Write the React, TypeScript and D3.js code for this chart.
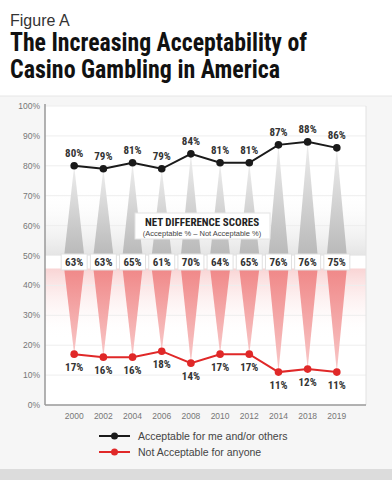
import React from "react";
import * as d3 from "d3";

const years = ["2000", "2002", "2004", "2006", "2008", "2010", "2012", "2014", "2018", "2019"];
const acceptable = [80, 79, 81, 79, 84, 81, 81, 87, 88, 86];
const notAcceptable = [17, 16, 16, 18, 14, 17, 17, 11, 12, 11];
const netDiff = [63, 63, 65, 61, 70, 64, 65, 76, 76, 75];
const yTicks = [0, 10, 20, 30, 40, 50, 60, 70, 80, 90, 100];
const legendItems = ["Acceptable for me and/or others", "Not Acceptable for anyone"];

const W = 392, H = 480;
const plot = { left: 45, right: 366, top: 106, bottom: 405 };
const body = "'Liberation Sans', Arial, sans-serif";
const narrow = "'Liberation Sans Narrow', 'Roboto Condensed', 'DejaVu Sans Condensed', sans-serif";

export default function App() {
  const x = d3.scalePoint<string>().domain(years).range([plot.left, plot.right]).padding(1);
  const y = d3.scaleLinear().domain([0, 100]).range([plot.bottom, plot.top]);
  const line = d3.line<number>().x((_, i) => x(years[i])!).y((d) => y(d));
  const grayBase = y(50);
  const redBase = y(50) + 13;
  const halfW = 10;

  return (
    <div style={{ position: "absolute", left: 0, top: 0 }}>
      <svg width={W} height={H} style={{ display: "block" }}>
        <defs>
          <linearGradient id="gTri" x1="0" y1="0" x2="0" y2="1">
            <stop offset="0" stopColor="#eeeeee" />
            <stop offset="1" stopColor="#b9b9b9" />
          </linearGradient>
          <linearGradient id="rTri" x1="0" y1="0" x2="0" y2="1">
            <stop offset="0" stopColor="#f08888" />
            <stop offset="1" stopColor="#f8c8c8" />
          </linearGradient>
          <linearGradient id="gBg" x1="0" y1="0" x2="0" y2="1">
            <stop offset="0" stopColor="#ffffff" stopOpacity="0" />
            <stop offset="1" stopColor="#e4e4e4" />
          </linearGradient>
          <linearGradient id="rBg" x1="0" y1="0" x2="0" y2="1">
            <stop offset="0" stopColor="#f9d4d4" />
            <stop offset="1" stopColor="#ffffff" stopOpacity="0" />
          </linearGradient>
        </defs>
        <rect x={0} y={0} width={W} height={H} fill="#ffffff" />
        <rect x={0} y={96} width={W} height={374} fill="#f6f6f6" />
        <line x1={0} x2={W} y1={96} y2={96} stroke="#e6e6e6" />
        <rect x={0} y={469} width={W} height={11} fill="#dcdcdc" />

        <text x={10} y={26} fontFamily={body} fontSize={16} fontWeight={300} fill="#333">Figure A</text>
        <text x={10} y={51} fontFamily={narrow} fontSize={25} fontWeight={700} fill="#111" textLength={297} lengthAdjust="spacingAndGlyphs">The Increasing Acceptability of</text>
        <text x={10} y={78} fontFamily={narrow} fontSize={25} fontWeight={700} fill="#111" textLength={270} lengthAdjust="spacingAndGlyphs">Casino Gambling in America</text>

        {/* plot background */}
        <rect x={plot.left} y={plot.top} width={plot.right - plot.left} height={plot.bottom - plot.top} fill="#ffffff" />
        <rect x={plot.left} y={y(72)} width={plot.right - plot.left} height={grayBase - y(72)} fill="url(#gBg)" />
        <rect x={plot.left} y={redBase} width={plot.right - plot.left} height={y(22) - redBase} fill="url(#rBg)" />
        {yTicks.filter((t) => t > 0).map((t) => (
          <line key={t} x1={plot.left} x2={plot.right} y1={y(t)} y2={y(t)} stroke="#eeeeee" strokeWidth={1} />
        ))}
        <line x1={plot.right} x2={plot.right} y1={plot.top} y2={plot.bottom} stroke="#e2e2e2" />
        <line x1={plot.left} x2={plot.left} y1={plot.top - 2} y2={plot.bottom} stroke="#999" strokeWidth={1.5} />
        <line x1={plot.left} x2={plot.right} y1={plot.bottom} y2={plot.bottom} stroke="#999" strokeWidth={1.5} />

        {yTicks.map((t) => (
          <text key={t} x={40} y={y(t) + 3} textAnchor="end" fontFamily={body} fontSize={8.5} fill="#777">{t}%</text>
        ))}
        {years.map((yr) => (
          <text key={yr} x={x(yr)} y={419} textAnchor="middle" fontFamily={body} fontSize={8.5} fill="#777">{yr}</text>
        ))}

        {/* triangles */}
        {acceptable.map((v, i) => {
          const cx = x(years[i])!;
          return <path key={"g" + i} d={`M${cx},${y(v)} L${cx - halfW},${grayBase} L${cx + halfW},${grayBase} Z`} fill="url(#gTri)" />;
        })}
        {notAcceptable.map((v, i) => {
          const cx = x(years[i])!;
          return <path key={"r" + i} d={`M${cx - halfW},${redBase} L${cx + halfW},${redBase} L${cx},${y(v)} Z`} fill="url(#rTri)" />;
        })}

        {/* net difference title box */}
        <rect x={135} y={213} width={135} height={26} fill="#ffffff" stroke="#e4e4e4" />
        <text x={202} y={226} textAnchor="middle" fontFamily={narrow} fontSize={11} fontWeight={700} fill="#222">NET DIFFERENCE SCORES</text>
        <text x={202} y={236} textAnchor="middle" fontFamily={body} fontSize={7.5} fill="#444">(Acceptable % – Not Acceptable %)</text>

        {/* net difference boxes */}
        {netDiff.map((v, i) => {
          const cx = x(years[i])!;
          return (
            <g key={"n" + i}>
              <rect x={cx - 13} y={254} width={26} height={16} fill="#ffffff" stroke="#e0e0e0" />
              <text x={cx} y={266} textAnchor="middle" fontFamily={narrow} fontSize={11} fontWeight={700} fill="#333">{v}%</text>
            </g>
          );
        })}

        {/* lines */}
        <path d={line(acceptable)!} fill="none" stroke="#1a1a1a" strokeWidth={2} />
        <path d={line(notAcceptable)!} fill="none" stroke="#e02828" strokeWidth={2} />
        {acceptable.map((v, i) => (
          <g key={"a" + i}>
            <circle cx={x(years[i])} cy={y(v)} r={3.8} fill="#1a1a1a" />
            <text x={x(years[i])} y={y(v) - 9} textAnchor="middle" fontFamily={narrow} fontSize={11} fontWeight={700} fill="#333">{v}%</text>
          </g>
        ))}
        {notAcceptable.map((v, i) => (
          <g key={"b" + i}>
            <circle cx={x(years[i])} cy={y(v)} r={3.8} fill="#e02828" />
            <text x={x(years[i])} y={y(v) + 17} textAnchor="middle" fontFamily={narrow} fontSize={11} fontWeight={700} fill="#333">{v}%</text>
          </g>
        ))}

        {/* legend */}
        {legendItems.map((lbl, i) => {
          const ly = 436 + i * 16;
          const col = i === 0 ? "#1a1a1a" : "#e02828";
          return (
            <g key={lbl}>
              <line x1={99} x2={130} y1={ly} y2={ly} stroke={col} strokeWidth={2} />
              <circle cx={114.5} cy={ly} r={3.5} fill={col} />
              <text x={138} y={ly + 4} fontFamily={body} fontSize={10.5} fill="#444">{lbl}</text>
            </g>
          );
        })}
      </svg>
    </div>
  );
}
